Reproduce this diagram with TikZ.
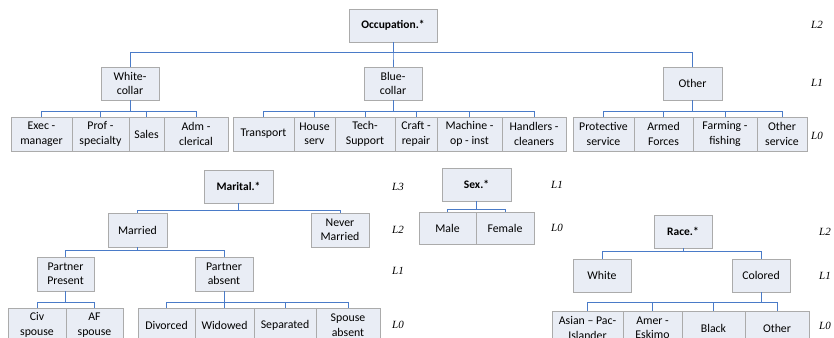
\documentclass[tikz,border=0pt]{standalone}
\usepackage{fontspec}
\setmainfont{Carlito}
\newfontfamily\lblfont{Liberation Serif}
\definecolor{boxfill}{HTML}{E9EDF5}
\definecolor{boxline}{HTML}{ABABAB}
\definecolor{conn}{HTML}{4A7BC8}
\tikzset{
  bx/.style={draw=boxline, fill=boxfill, line width=0.8pt, inner sep=0pt, align=center,
    font=\fontsize{11.8}{14.5}\selectfont},
  bold/.style={font=\fontsize{11.5}{14}\selectfont\bfseries},
  lvl/.style={font=\lblfont\itshape\fontsize{11}{13}\selectfont, inner sep=0pt},
  cn/.style={draw=conn, line width=1pt}
}
% box: name, x1, x2, y1, y2, text
\newcommand{\bxn}[6]{\node[bx, minimum width={#3-#2}, minimum height={#5-#4}] (#1) at ({(#2+#3)/2},{(#4+#5)/2}) {#6};}
\newcommand{\bxb}[6]{\node[bx, bold, minimum width={#3-#2}, minimum height={#5-#4}] (#1) at ({(#2+#3)/2},{(#4+#5)/2}) {#6};}
\begin{document}
\begin{tikzpicture}[x=1pt,y=-1pt]
\useasboundingbox (0,0) rectangle (834,337);
\clip (0,0) rectangle (834,337);
% ---------- Occupation ----------
\bxb{occ}{349}{437}{9}{42}{Occupation.*}
\bxn{wc}{101}{159}{67}{100}{White-\\collar}
\bxn{bc}{364}{422}{67}{100}{Blue-\\collar}
\bxn{oth}{663}{722}{67}{100}{Other}
\bxn{exec}{11}{72}{117}{151}{Exec -\\manager}
\bxn{prof}{72}{129}{117}{151}{Prof -\\specialty}
\bxn{sales}{129}{164}{117}{151}{Sales}
\bxn{adm}{164}{228}{117}{151}{Adm -\\clerical}
\bxn{trans}{233}{294}{117}{151}{Transport}
\bxn{house}{294}{335}{117}{151}{House\\serv}
\bxn{tech}{335}{395}{117}{151}{Tech-\\Support}
\bxn{craft}{395}{437}{117}{151}{Craft -\\repair}
\bxn{mach}{437}{502}{117}{151}{Machine -\\op - inst}
\bxn{hand}{502}{566}{117}{151}{Handlers -\\cleaners}
\bxn{prot}{573}{634}{117}{151}{Protective\\service}
\bxn{armed}{634}{693}{117}{151}{Armed\\Forces}
\bxn{farm}{693}{757}{117}{151}{Farming -\\fishing}
\bxn{oserv}{757}{807}{117}{151}{Other\\service}
\coordinate (b1) at (0,53);
\coordinate (b2) at (0,111);
\foreach \c in {wc,bc,oth} \draw[cn] (occ.south) -- (occ.south |- b1) -| (\c.north);
\foreach \c in {exec,prof,sales,adm} \draw[cn] (wc.south) -- (wc.south |- b2) -| (\c.north);
\foreach \c in {trans,house,tech,craft,mach,hand} \draw[cn] (bc.south) -- (bc.south |- b2) -| (\c.north);
\foreach \c in {prot,armed,farm,oserv} \draw[cn] (oth.south) -- (oth.south |- b2) -| (\c.north);
\node[lvl] (t2) at (817,25) {L2};
\node[lvl] (t1) at (817,83) {L1};
\node[lvl] (t0) at (817,136) {L0};
% ---------- Marital ----------
\bxb{mar}{204}{273}{170}{203}{Marital.*}
\bxn{married}{108}{167}{213}{247}{Married}
\bxn{never}{311}{369}{213}{247}{Never\\Married}
\bxn{pp}{37}{94}{257}{291}{Partner\\Present}
\bxn{pa}{195}{253}{257}{291}{Partner\\absent}
\bxn{civ}{8}{66}{308}{342}{Civ\\spouse}
\bxn{af}{66}{123}{308}{342}{AF\\spouse}
\bxn{div}{138}{195}{308}{342}{Divorced}
\bxn{wid}{195}{254}{308}{342}{Widowed}
\bxn{sep}{254}{316}{308}{342}{Separated}
\bxn{spa}{316}{380}{308}{342}{Spouse\\absent}
\coordinate (m1) at (0,210);
\coordinate (m2) at (0,250);
\coordinate (m3) at (0,302);
\foreach \c in {married,never} \draw[cn] (mar.south) -- (mar.south |- m1) -| (\c.north);
\foreach \c in {pp,pa} \draw[cn] (married.south) -- (married.south |- m2) -| (\c.north);
\foreach \c in {civ,af} \draw[cn] (pp.south) -- (pp.south |- m3) -| (\c.north);
\foreach \c in {div,wid,sep,spa} \draw[cn] (pa.south) -- (pa.south |- m3) -| (\c.north);
\node[lvl] (m3l) at (398,187) {L3};
\node[lvl] (m2l) at (398,230) {L2};
\node[lvl] (m1l) at (398,271) {L1};
\node[lvl] (m0l) at (398,325) {L0};
% ---------- Sex ----------
\bxb{sex}{442}{511}{168}{201}{Sex.*}
\bxn{male}{419}{476}{212}{244}{Male}
\bxn{female}{476}{534}{212}{244}{Female}
\coordinate (s1) at (0,209);
\foreach \c in {male,female} \draw[cn] (sex.south) -- (sex.south |- s1) -| (\c.north);
\node[lvl] (s1l) at (557,185) {L1};
\node[lvl] (s0l) at (557,228) {L0};
% ---------- Race ----------
\bxb{race}{654}{712}{215}{248}{Race.*}
\bxn{white}{573}{631}{259}{292}{White}
\bxn{colored}{732}{790}{259}{292}{Colored}
\bxn{asian}{552}{623}{311}{345}{Asian -- Pac-\\Islander}
\bxn{amer}{623}{682}{311}{345}{Amer -\\Eskimo}
\bxn{black}{682}{745}{311}{345}{Black}
\bxn{rother}{745}{809}{311}{345}{Other}
\coordinate (r1) at (0,251);
\coordinate (r2) at (0,302);
\foreach \c in {white,colored} \draw[cn] (race.south) -- (race.south |- r1) -| (\c.north);
\foreach \c in {asian,amer,black,rother} \draw[cn] (colored.south) -- (colored.south |- r2) -| (\c.north);
\node[lvl] (r2l) at (825,232) {L2};
\node[lvl] (r1l) at (825,276) {L1};
\node[lvl] (r0l) at (825,326) {L0};
\end{tikzpicture}
\end{document}
